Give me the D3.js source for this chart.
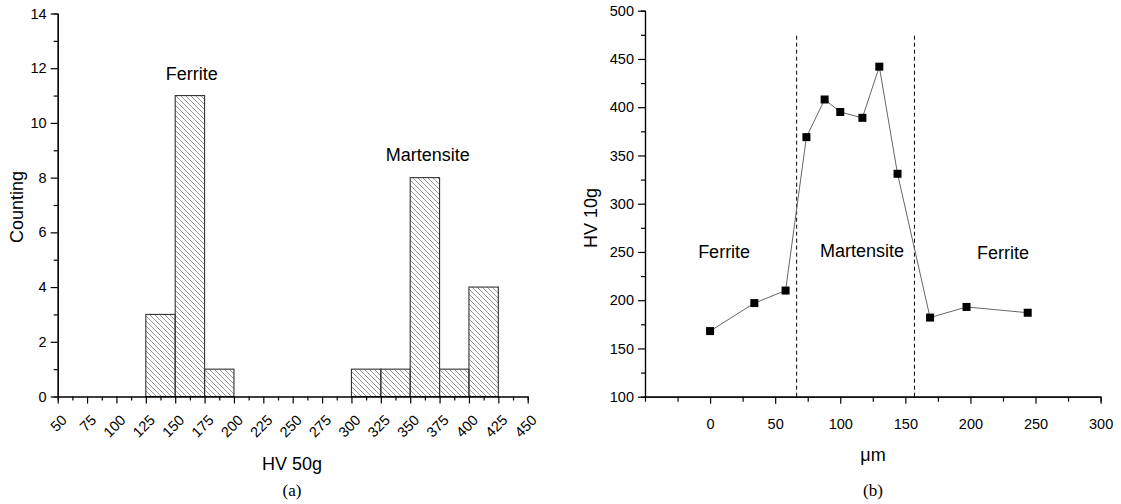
<!DOCTYPE html>
<html>
<head>
<meta charset="utf-8">
<script src="https://cdn.jsdelivr.net/npm/d3@7"></script>
<style>
  body { margin: 0; background: #fff; }
  svg { display: block; font-family: "Liberation Sans", Arial, sans-serif; }
  .ejes path, .ejes line { stroke: #000; stroke-width: 1.2; }
  .labels { font-size: 18px; fill: #000; }
  .cap { font-size: 17px; font-family: "Liberation Serif", "Times New Roman", serif; }
</style>
</head>
<body>
<div id="graf"></div>
<script>
// histogram (a)
const binStart = [125, 150, 175, 300, 325, 350, 375, 400]
const binCount = [3, 11, 1, 1, 1, 8, 1, 4]
const binWidth = 25
const histTicks = d3.range(50, 451, 25)
const countTicks = d3.range(0, 15, 2)

// profile (b)
const posUm = [0, 34, 58, 74, 88, 100, 117, 130, 144, 169, 197, 244]
const hv10 = [168, 197, 210, 369, 408, 395, 389, 442, 331, 182, 193, 187]
const boundaries = [66.5, 157]
const umTicks = d3.range(0, 301, 50)
const hvTicks = d3.range(100, 501, 50)

const svg = d3.select("#graf").append("svg")
  .attr("width", 1121)
  .attr("height", 504)

// d3 puts font-size 10 on axis groups, override it
const fixFont = (sel) => sel
  .attr("font-size", 14.5)
  .attr("font-family", "Liberation Sans, Arial, sans-serif")

const defs = svg.append("defs")
const pat = defs.append("pattern")
  .attr("id", "hatch")
  .attr("patternUnits", "userSpaceOnUse")
  .attr("width", 5)
  .attr("height", 5)
pat.append("path")
  .attr("d", "M0,0 L5,5 M-1,4 L1,6 M4,-1 L6,1")
  .attr("stroke", "#7a7a7a")
  .attr("stroke-width", 0.8)

// ---------- (a) ----------
const x = d3.scaleLinear().domain([50, 450]).range([57.7, 527.7])
const y = d3.scaleLinear().domain([0, 14]).range([396.5, 13.5])

const ga = svg.append("g")

ga.selectAll("rect.bar").data(binStart)
  .enter()
  .append("rect")
  .attr("class", "bar")
  .attr("x", (d) => x(d))
  .attr("y", (d, i) => y(binCount[i]))
  .attr("width", (d) => x(d + binWidth) - x(d))
  .attr("height", (d, i) => y(0) - y(binCount[i]))
  .attr("fill", "url(#hatch)")
  .attr("stroke", "#333")
  .attr("stroke-width", 1.1)

// minor ticks
ga.append("g")
  .attr("class", "ejes")
  .attr("transform", `translate(0, ${y(0)})`)
  .call(d3.axisBottom(x).tickValues(d3.range(62.5, 450, 25)).tickSize(4).tickFormat(""))
ga.append("g")
  .attr("class", "ejes")
  .attr("transform", `translate(${x(50)}, 0)`)
  .call(d3.axisLeft(y).tickValues(d3.range(1, 14, 2)).tickSize(4).tickFormat(""))

const xAx = ga.append("g")
  .attr("class", "ejes")
  .attr("transform", `translate(0, ${y(0)})`)
  .call(d3.axisBottom(x).tickValues(histTicks).tickSize(7).tickSizeOuter(0))
  .call(fixFont)
xAx.selectAll("text")
  .attr("text-anchor", "end")
  .attr("x", 0)
  .attr("y", 0)
  .attr("dy", "0.35em")
  .attr("transform", "translate(6, 21) rotate(-45)")

ga.append("g")
  .attr("class", "ejes")
  .attr("transform", `translate(${x(50)}, 0)`)
  .call(d3.axisLeft(y).tickValues(countTicks).tickSize(7).tickSizeOuter(0).tickPadding(4))
  .call(fixFont)

ga.append("text")
  .attr("class", "labels")
  .attr("x", 292)
  .attr("y", 470)
  .attr("text-anchor", "middle")
  .text("HV 50g")
ga.append("text")
  .attr("class", "labels")
  .attr("transform", `translate(23, 207) rotate(-90)`)
  .attr("text-anchor", "middle")
  .text("Counting")
ga.append("text")
  .attr("class", "labels")
  .attr("x", x(164))
  .attr("y", y(11.57))
  .attr("text-anchor", "middle")
  .text("Ferrite")
ga.append("text")
  .attr("class", "labels")
  .attr("x", x(365))
  .attr("y", y(8.6))
  .attr("text-anchor", "middle")
  .text("Martensite")
ga.append("text")
  .attr("class", "cap")
  .attr("x", 292)
  .attr("y", 496)
  .attr("text-anchor", "middle")
  .text("(a)")

// ---------- (b) ----------
const x2 = d3.scaleLinear().domain([-50, 300]).range([645, 1100.6])
const y2 = d3.scaleLinear().domain([100, 500]).range([396.7, 10.7])

const gb = svg.append("g")

gb.append("g")
  .attr("class", "ejes")
  .attr("transform", `translate(0, ${y2(100)})`)
  .call(d3.axisBottom(x2).tickValues(d3.range(-25, 300, 50)).tickSize(5).tickFormat(""))
gb.append("g")
  .attr("class", "ejes")
  .attr("transform", `translate(${x2(-50)}, 0)`)
  .call(d3.axisLeft(y2).tickValues(d3.range(125, 500, 50)).tickSize(4).tickFormat(""))

gb.append("g")
  .attr("class", "ejes")
  .attr("transform", `translate(0, ${y2(100)})`)
  .call(d3.axisBottom(x2).tickValues(umTicks).tickSize(7).tickSizeOuter(0).tickPadding(15))
  .call(fixFont)
gb.append("g")
  .attr("class", "ejes")
  .attr("transform", `translate(${x2(-50)}, 0)`)
  .call(d3.axisLeft(y2).tickValues(hvTicks).tickSize(7).tickSizeOuter(0).tickPadding(4))
  .call(fixFont)

gb.selectAll("line.bound").data(boundaries)
  .enter()
  .append("line")
  .attr("class", "bound")
  .attr("x1", (d) => x2(d))
  .attr("x2", (d) => x2(d))
  .attr("y1", y2(100))
  .attr("y2", y2(474))
  .attr("stroke", "#000")
  .attr("stroke-width", 1)
  .attr("stroke-dasharray", "4,3")

const pts = posUm.map((d, i) => [d, hv10[i]])
gb.append("path")
  .datum(pts)
  .attr("fill", "none")
  .attr("stroke", "#666")
  .attr("stroke-width", 1)
  .attr("d", d3.line().x((d) => x2(d[0])).y((d) => y2(d[1])))

gb.selectAll("rect.pt").data(pts)
  .enter()
  .append("rect")
  .attr("class", "pt")
  .attr("x", (d) => x2(d[0]) - 4)
  .attr("y", (d) => y2(d[1]) - 4)
  .attr("width", 8)
  .attr("height", 8)
  .attr("fill", "#000")

gb.append("text")
  .attr("class", "labels")
  .attr("x", x2(10.8))
  .attr("y", y2(243.7))
  .attr("text-anchor", "middle")
  .text("Ferrite")
gb.append("text")
  .attr("class", "labels")
  .attr("x", x2(116.7))
  .attr("y", y2(244.8))
  .attr("text-anchor", "middle")
  .text("Martensite")
gb.append("text")
  .attr("class", "labels")
  .attr("x", x2(225))
  .attr("y", y2(242.7))
  .attr("text-anchor", "middle")
  .text("Ferrite")

gb.append("text")
  .attr("class", "labels")
  .attr("transform", `translate(597, 218) rotate(-90)`)
  .attr("text-anchor", "middle")
  .text("HV 10g")
gb.append("text")
  .attr("class", "labels")
  .attr("x", 873)
  .attr("y", 461)
  .attr("text-anchor", "middle")
  .text("μm")
gb.append("text")
  .attr("class", "cap")
  .attr("x", 873)
  .attr("y", 496)
  .attr("text-anchor", "middle")
  .text("(b)")
</script>
</body>
</html>
